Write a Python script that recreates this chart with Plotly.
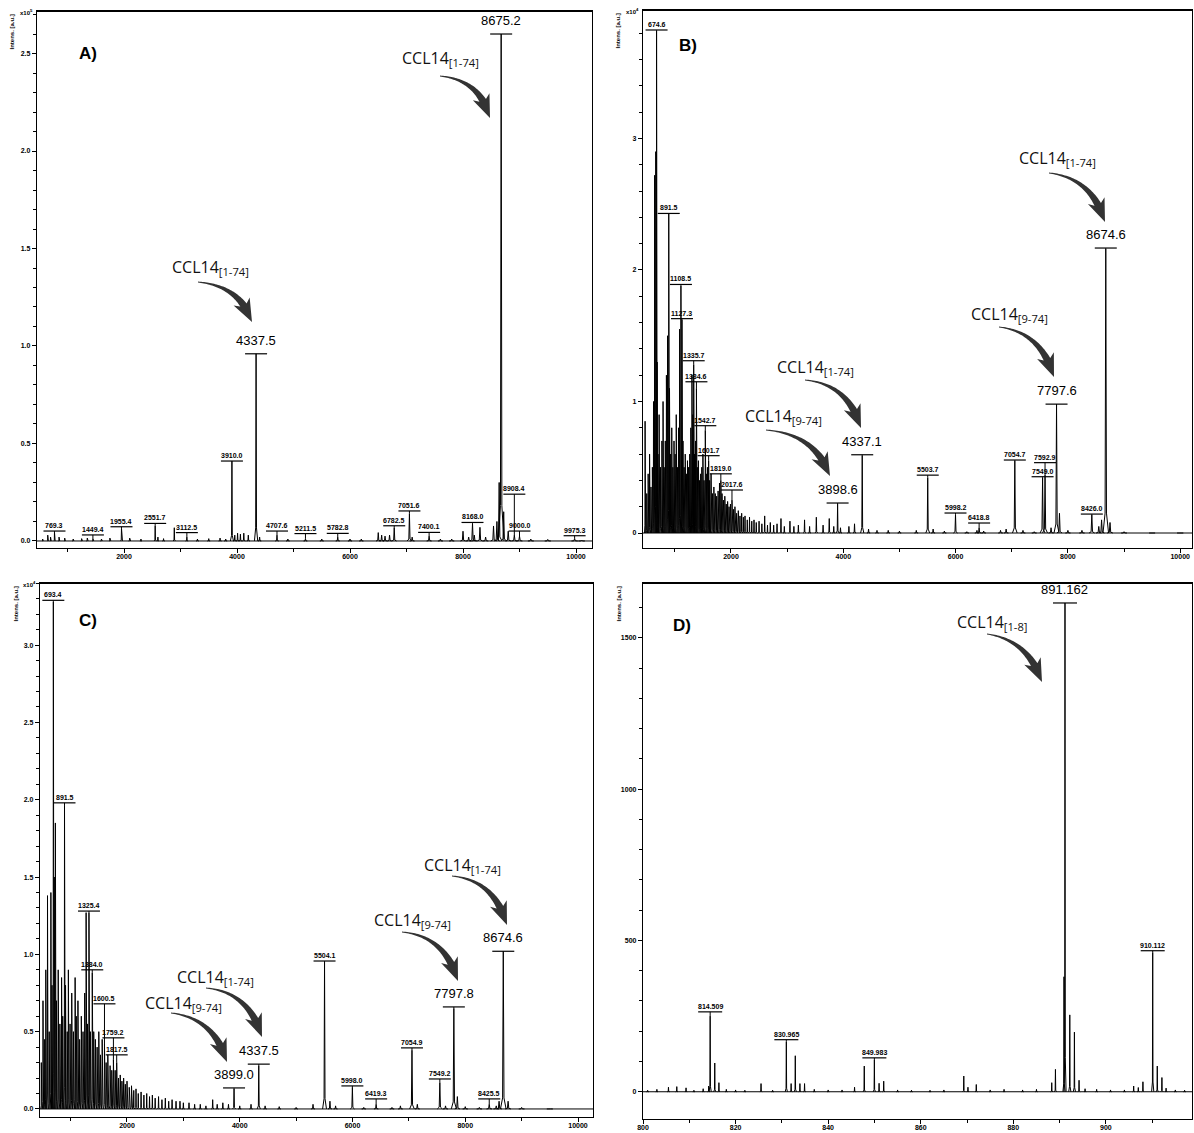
import math
import plotly.graph_objects as go

W, H = 1194, 1133

# ================= DATA =================
# ---- Panel A (intensity x10^5) ----
a_mz = [560, 650, 700, 769.3, 850, 950, 1100, 1250, 1350, 1449.4, 1600, 1750, 1955.4, 2100, 2300,
        2551.7, 2600, 2700, 2890, 3112.5, 3300, 3500, 3700, 3800, 3910.0, 3960, 4010, 4060, 4120,
        4200, 4337.5, 4400, 4707.6, 4900, 5211.5, 5500, 5782.8, 6000, 6200, 6500, 6560, 6620, 6700,
        6782.5, 7051.6, 7100, 7400.1, 7600, 7800, 8000, 8100, 8168.0, 8200, 8300, 8400, 8540, 8600,
        8640, 8675.2, 8720, 8800, 8908.4, 9000.0, 9200, 9500, 9975.3, 10100]
a_int = [0.01, 0.03, 0.02, 0.045, 0.02, 0.015, 0.01, 0.012, 0.015, 0.012, 0.01, 0.015, 0.065, 0.015, 0.01,
         0.078, 0.02, 0.012, 0.068, 0.02, 0.01, 0.012, 0.015, 0.01, 0.41, 0.03, 0.04, 0.035, 0.04,
         0.03, 0.96, 0.02, 0.03, 0.01, 0.012, 0.01, 0.02, 0.01, 0.01, 0.043, 0.03, 0.025, 0.03,
         0.068, 0.14, 0.02, 0.025, 0.01, 0.01, 0.05, 0.02, 0.09, 0.03, 0.07, 0.02, 0.077, 0.1,
         0.3, 2.6, 0.15, 0.05, 0.03, 0.025, 0.01, 0.008, 0.012, 0.005]
a_labels = ["769.3", "1449.4", "1955.4", "2551.7", "3112.5", "3910.0", "4337.5", "4707.6", "5211.5",
            "5782.8", "6782.5", "7051.6", "7400.1", "8168.0", "8675.2", "8908.4", "9000.0", "9975.3"]
a_label_bar = [0.051, 0.031, 0.073, 0.09, 0.043, 0.41, 0.96, 0.051, 0.038,
               0.039, 0.078, 0.154, 0.044, 0.095, 2.6, 0.24, 0.051, 0.027]
a_label_peak = [0.045, 0.012, 0.065, 0.078, 0.02, 0.41, 0.96, 0.03, 0.012,
                0.02, 0.068, 0.14, 0.025, 0.09, 2.6, 0.03, 0.025, 0.012]
a_big = ["4337.5", "8675.2"]

# ---- Panel B (intensity x10^4) ----
b_mz = [470, 500, 525, 550, 575, 600, 620, 640, 660, 674.6, 685, 700, 720, 745, 770, 790, 810, 830,
        850, 870, 891.5, 905, 925, 945, 965, 985, 1005, 1025, 1045, 1065, 1085, 1108.5, 1127.3,
        1145, 1165, 1185, 1205, 1225, 1245, 1265, 1285, 1305, 1320, 1335.7, 1350, 1370, 1384.6,
        1400, 1420, 1440, 1460, 1480, 1500, 1520, 1542.7, 1560, 1580, 1601.7, 1620, 1645, 1670,
        1695, 1720, 1745, 1770, 1795, 1819.0, 1840, 1865, 1890, 1915, 1940, 1965, 1990, 2017.6,
        2045, 2070, 2100, 2130, 2160, 2190, 2220, 2250, 2290, 2330, 2370, 2410, 2450, 2500, 2550,
        2600, 2650, 2700, 2760, 2820, 2890, 2950, 3050, 3120, 3200, 3310, 3400, 3520, 3640, 3750,
        3830, 3898.6, 3950, 4100, 4200, 4337.1, 4450, 4600, 4800, 5000, 5300, 5503.7, 5600, 5800,
        5998.2, 6200, 6380, 6418.8, 6500, 6800, 6900, 7054.7, 7200, 7400, 7549.0, 7592.9, 7700,
        7797.6, 7850, 8000, 8250, 8426.0, 8550, 8600, 8674.6, 8750, 9000, 9500, 10000]
b_int = [0.85, 0.3, 0.45, 0.6, 0.35, 0.5, 1.0, 2.72, 2.9, 3.82, 1.3, 0.6, 0.9, 0.5, 0.7, 1.0, 0.5, 0.7,
         1.2, 1.5, 2.43, 1.1, 0.6, 0.8, 0.5, 0.7, 0.6, 0.9, 0.5, 0.8, 1.55, 1.88, 1.62,
         0.7, 0.5, 0.6, 0.45, 0.55, 0.5, 0.6, 0.8, 1.2, 0.9, 1.28, 0.6, 0.7, 1.1,
         0.5, 0.55, 0.4, 0.45, 0.5, 0.6, 0.4, 0.78, 0.45, 0.5, 0.55, 0.4, 0.45, 0.3,
         0.35, 0.3, 0.28, 0.32, 0.38, 0.4, 0.3, 0.25, 0.28, 0.22, 0.24, 0.2, 0.22, 0.25,
         0.18, 0.2, 0.15, 0.17, 0.13, 0.15, 0.12, 0.13, 0.1, 0.12, 0.09, 0.1, 0.08, 0.09, 0.07,
         0.13, 0.06, 0.08, 0.06, 0.07, 0.11, 0.05, 0.09, 0.05, 0.06, 0.1, 0.05, 0.12, 0.06, 0.11,
         0.05, 0.22, 0.04, 0.05, 0.07, 0.59, 0.03, 0.02, 0.02, 0.015, 0.02, 0.42, 0.03, 0.015,
         0.14, 0.01, 0.02, 0.04, 0.015, 0.02, 0.03, 0.55, 0.02, 0.01, 0.42, 0.44, 0.04,
         0.98, 0.15, 0.02, 0.02, 0.14, 0.05, 0.1, 2.16, 0.08, 0.01, 0.005, 0.005]
b_labels = ["674.6", "891.5", "1108.5", "1127.3", "1335.7", "1384.6", "1542.7", "1601.7", "1819.0",
            "2017.6", "3898.6", "4337.1", "5503.7", "5998.2", "6418.8", "7054.7", "7549.0", "7592.9",
            "7797.6", "8426.0", "8674.6"]
b_label_bar = [3.825, 2.43, 1.89, 1.63, 1.31, 1.15, 0.816, 0.588, 0.45,
               0.327, 0.228, 0.595, 0.44, 0.152, 0.076, 0.555, 0.428, 0.535,
               0.98, 0.144, 2.167]
b_label_peak = [3.82, 2.43, 1.88, 1.62, 1.28, 1.1, 0.78, 0.55, 0.4,
                0.25, 0.22, 0.59, 0.42, 0.14, 0.04, 0.55, 0.42, 0.44,
                0.98, 0.14, 2.16]
b_big = ["3898.6", "4337.1", "7797.6", "8674.6"]

# ---- Panel C (intensity x10^4) ----
c_mz = [480, 510, 540, 560, 590, 620, 650, 670, 693.4, 710, 730, 750, 780, 810, 840, 860, 891.5, 910,
        940, 960, 990, 1020, 1050, 1080, 1100, 1130, 1160, 1190, 1220, 1250, 1275, 1300, 1325.4,
        1350, 1384.0, 1410, 1440, 1470, 1500, 1530, 1560, 1600.5, 1630, 1660, 1700, 1730, 1759.2,
        1790, 1817.5, 1850, 1880, 1910, 1940, 1970, 2000, 2040, 2080, 2120, 2160, 2200, 2250, 2300,
        2350, 2400, 2450, 2500, 2560, 2620, 2680, 2740, 2800, 2870, 2940, 3000, 3100, 3200, 3300,
        3400, 3520, 3600, 3700, 3800, 3899.0, 4000, 4200, 4337.5, 4450, 4700, 5000, 5300, 5504.1,
        5600, 5700, 5998.0, 6200, 6419.3, 6700, 6850, 7054.9, 7150, 7549.2, 7650, 7797.8, 7860,
        8000, 8250, 8425.5, 8550, 8600, 8674.6, 8760, 9000, 9500]
c_int = [0.3, 0.7, 0.45, 0.9, 1.38, 0.5, 1.4, 0.8, 3.28, 1.5, 1.85, 0.7, 0.9, 0.55, 0.85, 0.6, 1.96, 0.8,
         0.5, 0.9, 0.55, 0.75, 0.5, 0.85, 0.6, 0.7, 0.45, 0.6, 0.5, 0.75, 1.27, 0.55, 1.27,
         0.5, 0.88, 0.5, 0.45, 0.4, 0.5, 0.35, 0.45, 0.42, 0.3, 0.35, 0.28, 0.25, 0.32,
         0.25, 0.3, 0.2, 0.22, 0.18, 0.2, 0.16, 0.18, 0.14, 0.15, 0.12, 0.13, 0.1, 0.11, 0.09,
         0.1, 0.08, 0.09, 0.07, 0.08, 0.06, 0.07, 0.05, 0.06, 0.05, 0.05, 0.04, 0.04, 0.03, 0.03,
         0.02, 0.06, 0.03, 0.04, 0.03, 0.13, 0.02, 0.03, 0.28, 0.02, 0.015, 0.01, 0.03, 0.95,
         0.05, 0.02, 0.14, 0.01, 0.03, 0.01, 0.02, 0.38, 0.03, 0.17, 0.02, 0.65, 0.08,
         0.015, 0.01, 0.03, 0.02, 0.05, 1.02, 0.05, 0.01, 0.005]
c_labels = ["693.4", "891.5", "1325.4", "1384.0", "1600.5", "1759.2", "1817.5", "3899.0", "4337.5",
            "5504.1", "5998.0", "6419.3", "7054.9", "7549.2", "7797.8", "8425.5", "8674.6"]
c_label_bar = [3.29, 1.98, 1.28, 0.9, 0.68, 0.46, 0.35, 0.136, 0.29,
               0.957, 0.149, 0.065, 0.395, 0.194, 0.66, 0.065, 1.02]
c_label_peak = [3.28, 1.96, 1.27, 0.88, 0.42, 0.32, 0.3, 0.13, 0.28,
                0.95, 0.14, 0.03, 0.38, 0.17, 0.65, 0.03, 1.02]
c_big = ["3899.0", "4337.5", "7797.8", "8674.6"]

# ---- Panel D (intensity, a.u.) ----
d_mz = [801, 803, 805.5, 807.3, 809.3, 811, 813, 814.2, 814.509, 815.5, 816.4, 818, 820, 822, 825.5,
        828, 830.965, 832.0, 832.9, 833.9, 834.9, 837, 840, 843, 845.7, 847.8, 849.983, 851.0,
        852.0, 855, 858, 862, 865, 869.3, 870.2, 872.0, 875, 878, 882, 885, 888.3, 889.1, 890.95,
        891.162, 892.2, 893.2, 894.2, 895.5, 898, 901, 904, 906.0, 907.0, 908.0, 910.112, 911.1,
        912.1, 913, 915, 917]
d_int = [5, 8, 15, 17, 13, 5, 10, 19, 250, 95, 30, 8, 6, 5, 27,
         5, 165, 27, 119, 27, 27, 8, 6, 6, 15, 85, 105, 28,
         35, 6, 5, 5, 6, 52, 15, 24, 6, 8, 6, 8, 30, 74, 380,
         1615, 254, 197, 38, 10, 8, 6, 6, 19, 14, 33, 460, 85,
         47, 12, 6, 5]
d_labels = ["814.509", "830.965", "849.983", "891.162", "910.112"]
d_label_bar = [264, 172, 112, 1615, 466]
d_label_peak = [250, 165, 105, 1615, 460]
d_big = ["891.162"]

# tick definitions
x_ticks_main = [2000, 4000, 6000, 8000, 10000]
x_ticks_d = [800, 820, 840, 860, 880, 900, 920]
y_ticks_a = [0.0, 0.5, 1.0, 1.5, 2.0, 2.5]
y_ticks_b = [0, 1, 2, 3]
y_ticks_c = [0.0, 0.5, 1.0, 1.5, 2.0, 2.5, 3.0]
y_ticks_d = [0, 500, 1000, 1500]

# notes with curved arrows: (label, text-center px, tail px, ctrl px, tip px) in page pixels
ccl_notes = [
    ("CCL14<sub>[1-74]</sub>", (440, 58), (440, 76), (480, 80), (490, 118)),
    ("CCL14<sub>[1-74]</sub>", (210, 268), (198, 282), (240, 286), (252, 322)),
    ("CCL14<sub>[1-74]</sub>", (1057, 158), (1049, 173), (1092, 178), (1105, 222)),
    ("CCL14<sub>[9-74]</sub>", (1009, 315), (999, 327), (1041, 332), (1054, 377)),
    ("CCL14<sub>[1-74]</sub>", (815, 367), (805, 380), (848, 384), (861, 428)),
    ("CCL14<sub>[9-74]</sub>", (783, 417), (766, 430), (815, 434), (830, 476)),
    ("CCL14<sub>[1-74]</sub>", (462, 865), (452, 876), (494, 880), (507, 925)),
    ("CCL14<sub>[9-74]</sub>", (412, 920), (402, 932), (445, 936), (458, 981)),
    ("CCL14<sub>[1-74]</sub>", (215, 977), (206, 988), (249, 992), (262, 1037)),
    ("CCL14<sub>[9-74]</sub>", (183, 1003), (171, 1013), (214, 1018), (227, 1062)),
    ("CCL14<sub>[1-8]</sub>", (992, 622), (987, 634), (1028, 640), (1042, 682)),
]

# ================= LAYOUT HELPERS =================
panels = [
    dict(mz=a_mz, it=a_int, lab=a_labels, bar=a_label_bar, pk=a_label_peak, big=a_big,
         dom=(37, 592, 11, 548), xr=(460, 10283), yr=(-0.036, 2.718), xt=x_ticks_main, xminor=1000,
         yt=y_ticks_a, yfmt="{:.1f}", yminor=0.1, mult="x10<sup>5</sup>", letter="A)", letpos=(88, 54),
         hw=lambda m: 0.0012 * m + 2.0, barhw=11),
    dict(mz=b_mz, it=b_int, lab=b_labels, bar=b_label_bar, pk=b_label_peak, big=b_big,
         dom=(643, 1192, 10, 548), xr=(433, 10210), yr=(-0.114, 3.977), xt=x_ticks_main, xminor=1000,
         yt=y_ticks_b, yfmt="{:.0f}", yminor=0.2, mult="x10<sup>4</sup>", letter="B)", letpos=(688, 46),
         hw=lambda m: 0.0012 * m + 2.0, barhw=11),
    dict(mz=c_mz, it=c_int, lab=c_labels, bar=c_label_bar, pk=c_label_peak, big=c_big,
         dom=(40, 593, 583, 1117), xr=(457, 10266), yr=(-0.052, 3.402), xt=x_ticks_main, xminor=1000,
         yt=y_ticks_c, yfmt="{:.1f}", yminor=0.1, mult="x10<sup>4</sup>", letter="C)", letpos=(88, 620),
         hw=lambda m: 0.0012 * m + 2.0, barhw=11),
    dict(mz=d_mz, it=d_int, lab=d_labels, bar=d_label_bar, pk=d_label_peak, big=d_big,
         dom=(643, 1192, 583, 1119), xr=(800, 918.6), yr=(-90, 1681), xt=x_ticks_d, xminor=10,
         yt=y_ticks_d, yfmt="{:.0f}", yminor=100, mult=None, letter="D)", letpos=(682, 625),
         hw=lambda m: 0.06, barhw=12),
]


def px_x(px):
    return px / W


def px_y(py):
    return 1 - py / H


def arrow_path(tail, ctrl, tip, head_len=19.0, head_w=18.0, w0=1.0, w1=7.0):
    def bez(t):
        return ((1 - t) ** 2 * tail[0] + 2 * (1 - t) * t * ctrl[0] + t * t * tip[0],
                (1 - t) ** 2 * tail[1] + 2 * (1 - t) * t * ctrl[1] + t * t * tip[1])

    def der(t):
        return (2 * (1 - t) * (ctrl[0] - tail[0]) + 2 * t * (tip[0] - ctrl[0]),
                2 * (1 - t) * (ctrl[1] - tail[1]) + 2 * t * (tip[1] - ctrl[1]))

    t_h = 0.7
    for i in range(400, -1, -1):
        t = i / 400
        p = bez(t)
        if math.hypot(p[0] - tip[0], p[1] - tip[1]) >= head_len:
            t_h = t
            break
    n = 40
    left, right = [], []
    for i in range(n + 1):
        t = t_h * i / n
        x, y = bez(t)
        dx, dy = der(t)
        L = math.hypot(dx, dy) or 1
        nx, ny = -dy / L, dx / L
        w = (w0 + (w1 - w0) * (i / n) ** 1.2) / 2
        left.append((x + nx * w, y + ny * w))
        right.append((x - nx * w, y - ny * w))
    bx, by = bez(t_h)
    dx, dy = tip[0] - bx, tip[1] - by
    L = math.hypot(dx, dy) or 1
    nx, ny = -dy / L, dx / L
    back = 4.0
    hb = (bx - dx / L * back, by - dy / L * back)
    head = [(bx + nx * 3.5, by + ny * 3.5),
            (hb[0] + nx * head_w / 2, hb[1] + ny * head_w / 2), tip,
            (hb[0] - nx * head_w / 2, hb[1] - ny * head_w / 2),
            (bx - nx * 3.5, by - ny * 3.5)]
    pts = left + head + right[::-1]
    s = "M " + " L ".join("{:.5f},{:.5f}".format(px_x(x), px_y(y)) for x, y in pts) + " Z"
    return s


fig = go.Figure()
shapes = []
annotations = []
tick_font = dict(family="Liberation Sans, Arial, sans-serif", size=7, color="black", weight="bold")

for k, p in enumerate(panels):
    assert len(p["mz"]) == len(p["it"])
    assert len(p["lab"]) == len(p["bar"]) == len(p["pk"])
    sfx = "" if k == 0 else str(k + 1)
    xa, ya = "x" + sfx, "y" + sfx
    x0, x1, y0, y1 = p["dom"]
    xppu = (x1 - x0) / (p["xr"][1] - p["xr"][0])  # px per x unit

    # spectrum sticks
    xs, ys = [p["xr"][0], p["xr"][1], None], [0, 0, None]
    for m, h in zip(p["mz"], p["it"]):
        w = p["hw"](m)
        xs += [m - 4 * w, m - w, m, m + w, m + 4 * w, None]
        ys += [0, 0.07 * h, h, 0.07 * h, 0, None]
    fig.add_trace(go.Scatter(x=xs, y=ys, mode="lines", line=dict(color="black", width=1),
                             xaxis=xa, yaxis=ya, hoverinfo="skip", showlegend=False,
                             connectgaps=False))

    # peak labels
    for txt, bar, pk in zip(p["lab"], p["bar"], p["pk"]):
        m = float(txt)
        big = txt in p["big"]
        hw_data = p["barhw"] / xppu
        shapes.append(dict(type="line", xref=xa, yref=ya, x0=m - hw_data, x1=m + hw_data,
                           y0=bar, y1=bar, line=dict(color="black", width=1.2)))
        if bar > pk:
            shapes.append(dict(type="line", xref=xa, yref=ya, x0=m, x1=m, y0=pk, y1=bar,
                               line=dict(color="black", width=1)))
        annotations.append(dict(
            x=m, y=bar, xref=xa, yref=ya, text=txt, showarrow=False,
            yanchor="bottom", xanchor="center", yshift=4 if big else 0,
            font=dict(family="Liberation Sans, Arial, sans-serif", size=13 if big else 7,
                      color="black", weight="normal" if big else "bold")))

    # axes
    fig.update_layout(**{
        ("xaxis" + sfx): dict(domain=[px_x(x0), px_x(x1)], range=list(p["xr"]), anchor=ya,
                              tickvals=p["xt"], ticktext=[str(v) for v in p["xt"]],
                              ticks="outside", ticklen=4, tickwidth=1, tickcolor="black",
                              minor=dict(ticks="outside", dtick=p["xminor"], tick0=0, ticklen=3,
                                         tickcolor="black"),
                              showline=True, linecolor="black", linewidth=1.3, mirror=True,
                              showgrid=False, zeroline=False, tickfont=tick_font,
                              ticklabelstandoff=-3, automargin=False),
        ("yaxis" + sfx): dict(domain=[px_y(y1), px_y(y0)], range=list(p["yr"]), anchor=xa,
                              tickvals=p["yt"], ticktext=[p["yfmt"].format(v) for v in p["yt"]],
                              ticks="outside", ticklen=4, tickwidth=1, tickcolor="black",
                              minor=dict(ticks="outside", dtick=p["yminor"], tick0=0, ticklen=3,
                                         tickcolor="black"),
                              showline=True, linecolor="black", linewidth=1.3, mirror=True,
                              showgrid=False, zeroline=False, tickfont=tick_font,
                              ticklabelstandoff=0, automargin=False),
    })
    # top border thicker
    shapes.append(dict(type="line", xref="paper", yref="paper", x0=px_x(x0), x1=px_x(x1),
                       y0=px_y(y0), y1=px_y(y0), line=dict(color="black", width=2.2)))

    # axis title + multiplier
    annotations.append(dict(x=px_x(x0 - 25), y=px_y(y0 + 2), xref="paper", yref="paper",
                            text="Intens. [a.u.]", textangle=-90, showarrow=False,
                            xanchor="center", yanchor="top",
                            font=dict(family="Liberation Sans, Arial", size=6, color="black",
                                      weight="bold")))
    if p["mult"]:
        annotations.append(dict(x=px_x(x0 - 2), y=px_y(y0 + 1), xref="paper", yref="paper",
                                text=p["mult"], showarrow=False, xanchor="right", yanchor="middle",
                                font=dict(family="Liberation Sans, Arial", size=6, color="black",
                                          weight="bold")))
    # panel letter
    annotations.append(dict(x=px_x(p["letpos"][0]), y=px_y(p["letpos"][1]), xref="paper", yref="paper",
                            text=p["letter"], showarrow=False, xanchor="center", yanchor="middle",
                            font=dict(family="Liberation Sans, Arial", size=17, color="black",
                                      weight="bold")))

# CCL14 notes with curved arrows
for txt, cen, tail, ctrl, tip in ccl_notes:
    annotations.append(dict(x=px_x(cen[0]), y=px_y(cen[1]), xref="paper", yref="paper", text=txt,
                            showarrow=False, xanchor="center", yanchor="middle",
                            font=dict(family="Open Sans, Noto Sans, sans-serif", size=16,
                                      color="#111111")))
    shapes.append(dict(type="path", xref="paper", yref="paper", path=arrow_path(tail, ctrl, tip),
                       fillcolor="#333333", line=dict(width=0), layer="above"))

fig.update_layout(width=W, height=H, margin=dict(l=0, r=0, t=0, b=0, autoexpand=False),
                  paper_bgcolor="white", plot_bgcolor="white", showlegend=False,
                  shapes=shapes, annotations=annotations)

# remove the page's default body margin so the figure fills the window exactly
fig.write_html("out.html", config={"displayModeBar": False},
               post_script="document.body.style.margin='0';document.body.style.overflow='hidden';")
